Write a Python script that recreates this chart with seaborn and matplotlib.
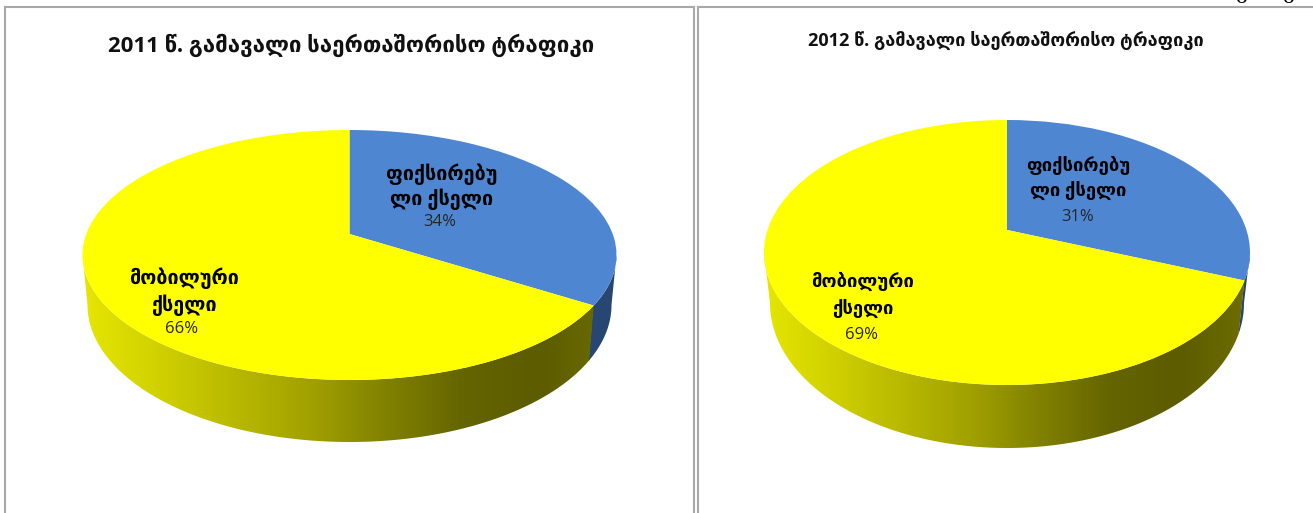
import numpy as np
import matplotlib
matplotlib.use("Agg")
import matplotlib.pyplot as plt
import seaborn as sns
from matplotlib.path import Path
from matplotlib.patches import PathPatch
from matplotlib.transforms import Transform
from matplotlib.colors import ListedColormap

sns.set_theme(style="white")
FONT = ["Open Sans", "DejaVu Sans"]
plt.rcParams["font.family"] = FONT

W, H = 1313, 513

categories = ["ფიქსირებული ქსელი", "მობილური ქსელი"]
values_2011 = [34, 66]
values_2012 = [31, 69]
title_2011 = "2011 წ. გამავალი საერთაშორისო ტრაფიკი"
title_2012 = "2012 წ. გამავალი საერთაშორისო ტრაფიკი"
fixed_lines = ["ფიქსირებუ", "ლი ქსელი"]
mobile_lines = ["მობილური", "ქსელი"]

top_colors = sns.color_palette(["#4f86d2", "#ffff00"])
side_blue = sns.blend_palette(["#3a5f96", "#274672"], 32)
side_yellow = sns.blend_palette(
    ["#e6e600", "#d0d000", "#b8b800", "#a0a000", "#808000", "#646400", "#5c5c00", "#6e6e00"], 256)


class Tilt(Transform):
    """Unit disc to a perspective-tilted ellipse in panel pixels."""
    input_dims = output_dims = 2

    def __init__(self, cx, cy, a, b, k):
        super().__init__()
        self.p = (cx, cy, a, b, k)

    def transform_non_affine(self, xy):
        cx, cy, a, b, k = self.p
        xy = np.asarray(xy, float)
        w = 1 + k * xy[:, 1]
        return np.column_stack([cx + a * np.sqrt(1 - k**2) * xy[:, 0] / w,
                                cy - b * (xy[:, 1] + k) / w])


def disc(angles_deg):
    t = np.radians(angles_deg)
    return np.column_stack([np.sin(t), np.cos(t)])


def draw_side(ax, top, bottom, a0, a1, cmap, xr, yr):
    t = np.linspace(a0, a1, 200)
    pts = np.vstack([top.transform_non_affine(disc(t)),
                     bottom.transform_non_affine(disc(t))[::-1]])
    clip = PathPatch(Path(np.vstack([pts, pts[:1]]), closed=True),
                     fc="none", ec="none", transform=ax.transData)
    ax.add_patch(clip)
    grad = np.linspace(0, 1, 512)[None, :]
    im = ax.imshow(grad, extent=(xr[0], xr[1], yr[1], yr[0]), cmap=cmap,
                   aspect="auto", zorder=1, interpolation="bilinear")
    im.set_clip_path(clip)


def panel(x0, x1, values, title, title_xy, title_size, label_size, top_geo, bot_geo, label_pos):
    y0, y1 = 7, 620
    ax = fig.add_axes([x0 / W, 1 - y1 / H, (x1 - x0) / W, (y1 - y0) / H])
    wedges, _ = ax.pie(values, colors=top_colors, startangle=90, counterclock=False,
                       wedgeprops={"linewidth": 0})
    ax.set_aspect("auto")
    ax.set_xlim(x0, x1)
    ax.set_ylim(y1, y0)
    ax.set_frame_on(True)
    for s in ax.spines.values():
        s.set_color("#a8a8a8")
        s.set_linewidth(1.5)

    top, bottom = Tilt(*top_geo), Tilt(*bot_geo)
    for wd in wedges:
        wd.set_transform(top + ax.transData)
        wd.set_clip_on(False)
        wd.set_zorder(3)

    k = top_geo[4]
    start = np.degrees(np.arccos(-k))
    split = 360 * values[0] / sum(values)
    xr = (top_geo[0] - top_geo[2], top_geo[0] + top_geo[2])
    yr = (100, 480)
    draw_side(ax, top, bottom, start, split + 0.3, ListedColormap(side_blue), xr, yr)
    draw_side(ax, top, bottom, split, 360 - start, ListedColormap(side_yellow), xr, yr)
    ax.set_xlim(x0, x1)
    ax.set_ylim(y1, y0)

    ax.text(*title_xy, title, ha="center", va="center", fontsize=title_size,
            fontweight="bold", color="#111111", zorder=5)
    groups = [fixed_lines, mobile_lines]
    for (lines, v, pos) in zip(groups, values, label_pos):
        for line, (x, y) in zip(lines, pos[:2]):
            ax.text(x, y, line, ha="center", va="center", fontsize=label_size,
                    fontweight="bold", color="black", zorder=5)
        ax.text(pos[2][0], pos[2][1], f"{v}%", ha="center", va="center",
                fontsize=12, color="#262626", zorder=5)
    return ax


fig = plt.figure(figsize=(W / 100, H / 100), dpi=100, facecolor="white")

panel(5, 694, values_2011, title_2011, (351, 45), 16, 14.2,
      (349.5, 255, 267, 125, 0.168), (349.5, 305, 262, 137, 0.168),
      [[(442, 174), (442, 199), (440, 222)], [(184, 278), (184, 305), (182, 329)]])
panel(698, 1400, values_2012, title_2012, (1006, 41), 13.1, 13.3,
      (1007, 252.5, 243, 132.5, 0.17), (1007, 303, 237, 145, 0.17),
      [[(1078, 165), (1078, 191), (1078, 217)], [(863, 281), (863, 309), (861, 335)]])

# Bottoms of the cropped page text at the top edge of the source image.
for x in (1241, 1288):
    fig.text(x / W, 1 - 3 / H, "o", ha="center", va="baseline", fontsize=17,
             family="Liberation Serif", color="black")

fig.savefig("out.png", dpi=100, facecolor="white")
